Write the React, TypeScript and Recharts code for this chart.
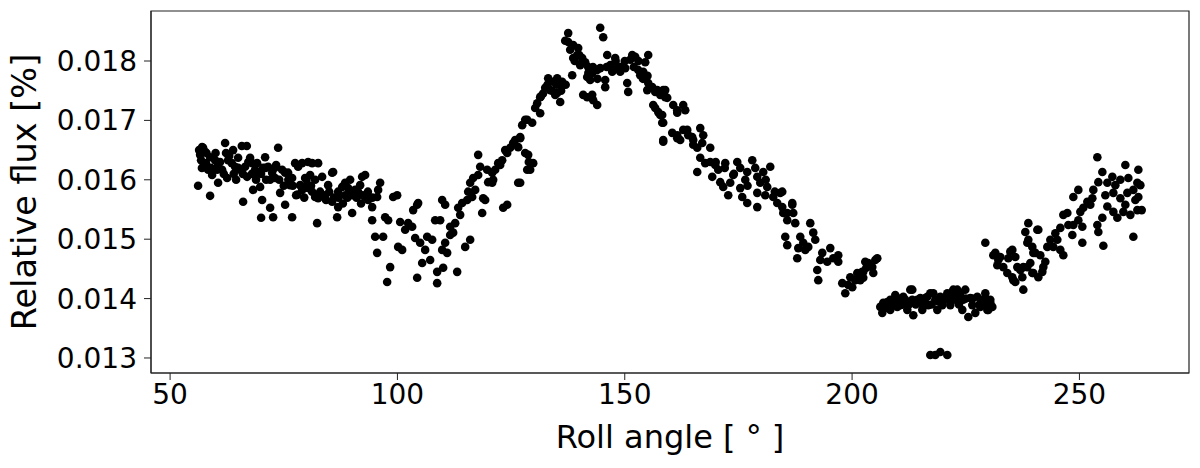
import { ReferenceArea, Scatter, ScatterChart, XAxis, YAxis } from "recharts";

// roll angle [deg], relative flux [%], left to right
const segA: [number, number][] = [
  [56.16, 0.0159], [56.38, 0.0165], [56.6, 0.01642], [56.82, 0.01633], [57.26, 0.01654],
  [57.48, 0.01625], [57.04, 0.01655], [57.7, 0.01647], [57.9, 0.01628], [58.36, 0.01617],
  [58.8, 0.01638], [58.8, 0.01573], [59.9, 0.01633], [60.34, 0.01617], [60.56, 0.01625],
  [60.56, 0.01595], [62.1, 0.01662], [62.3, 0.01645], [62.76, 0.01633], [63.57, 0.01628],
  [64.3, 0.01622], [64.96, 0.01637], [65.4, 0.01617], [65.77, 0.01657], [66.06, 0.01563],
  [66.5, 0.01622], [66.87, 0.01657], [66.94, 0.01605], [68.04, 0.01628], [68.7, 0.01617],
  [68.9, 0.016], [69.14, 0.01628], [69.36, 0.01612], [69.8, 0.01588], [70.02, 0.01536],
  [70.24, 0.01566], [70.46, 0.0162], [70.9, 0.01638], [71.56, 0.01622], [72.0, 0.01553],
  [72.44, 0.01612], [72.66, 0.01537], [73.1, 0.01603], [73.76, 0.01654], [74.2, 0.01578],
  [74.64, 0.01617], [75.3, 0.01612], [75.3, 0.01558], [75.96, 0.01612], [76.84, 0.01603],
  [76.84, 0.01537], [77.5, 0.01628], [78.16, 0.01622], [78.6, 0.01591], [79.04, 0.01628],
  [79.04, 0.01583], [79.7, 0.01603], [80.14, 0.01591], [80.36, 0.0163], [80.5, 0.01586],
  [81.24, 0.01628], [81.24, 0.0158], [81.9, 0.01571], [82.34, 0.01527], [82.56, 0.01628],
  [82.56, 0.01569], [83.44, 0.01605], [84.1, 0.01574], [84.3, 0.01566], [85.64, 0.01612],
  [85.64, 0.01563], [85.86, 0.01613], [86.74, 0.01537], [86.96, 0.0158], [86.96, 0.01554],
  [87.84, 0.01588], [88.5, 0.01595], [89.16, 0.01586], [90.04, 0.01574], [90.04, 0.01544],
  [90.7, 0.01583], [91.36, 0.0158], [92.24, 0.01605], [92.9, 0.01571],
  [59.24, 0.01608], [61.44, 0.01617], [62.54, 0.01603], [63.86, 0.0165], [64.52, 0.016],
  [67.6, 0.01637], [68.26, 0.01583], [71.12, 0.016], [73.32, 0.01625], [76.4, 0.01591],
  [77.72, 0.01574], [80.8, 0.01608], [81.9, 0.016], [84.76, 0.01591], [88.5, 0.01574],
  [89.6, 0.016], [91.8, 0.01591],
  [57.0, 0.0162], [58.0, 0.01645], [59.0, 0.0162], [60.0, 0.01645], [61.0, 0.0163],
  [61.8, 0.0161], [63.0, 0.0164], [64.0, 0.0161], [65.0, 0.0162], [66.0, 0.0161],
  [67.2, 0.0163], [68.0, 0.0161], [70.0, 0.0161], [71.0, 0.0162], [72.0, 0.016],
  [73.0, 0.0162], [74.0, 0.016], [75.0, 0.0159], [76.0, 0.016], [77.0, 0.0159],
  [78.0, 0.01575], [79.5, 0.0157], [80.0, 0.016], [81.0, 0.0159], [83.0, 0.0158],
  [84.0, 0.0157], [85.0, 0.0158], [86.0, 0.0157], [87.0, 0.0157], [88.0, 0.0156],
  [89.0, 0.0157], [90.0, 0.0158], [91.0, 0.0157], [92.0, 0.0156], [93.5, 0.0158],
  [94.5, 0.0157],
];

const segB: [number, number][] = [
  [92.9, 0.01608], [96.2, 0.01595], [90.9, 0.0158], [92.4, 0.01574], [93.56, 0.01566],
  [94.44, 0.01554], [95.54, 0.01571], [95.76, 0.01583], [94.44, 0.01532], [97.3, 0.01537],
  [97.96, 0.01532], [99.06, 0.01571], [99.94, 0.01574], [95.1, 0.01504], [96.86, 0.01504],
  [95.54, 0.01477], [98.4, 0.01453], [97.74, 0.01428], [100.16, 0.01487], [101.04, 0.01482],
  [101.7, 0.01516], [102.36, 0.01527], [103.46, 0.01549], [104.34, 0.01558], [104.56, 0.01561],
  [103.24, 0.01521], [103.9, 0.01502], [105.0, 0.01494], [105.44, 0.0146], [104.34, 0.01435],
  [106.54, 0.01504], [107.64, 0.01499], [108.3, 0.01532], [109.4, 0.01532], [109.84, 0.01566],
  [110.5, 0.01558], [108.74, 0.01445], [108.74, 0.01426], [110.06, 0.01452], [109.84, 0.01482],
  [110.94, 0.01477], [110.5, 0.01494], [111.6, 0.01521], [112.7, 0.01527], [112.26, 0.01511],
  [113.14, 0.01445], [114.9, 0.01487], [116.0, 0.01499], [113.36, 0.01553], [114.24, 0.01561],
  [115.34, 0.01566], [115.56, 0.0158], [116.44, 0.01571], [116.0, 0.01595], [116.66, 0.01603],
  [117.76, 0.01608], [118.2, 0.01622], [117.76, 0.01642], [118.86, 0.01569], [119.3, 0.01566],
  [118.64, 0.01544], [119.96, 0.01596], [120.84, 0.01612], [121.5, 0.01617], [122.16, 0.01628],
  [123.04, 0.01633], [124.14, 0.01645], [124.8, 0.01654], [125.46, 0.01662], [126.56, 0.01655],
  [126.56, 0.01595], [123.26, 0.01553], [124.14, 0.01558], [127.44, 0.01692], [128.1, 0.01701],
  [127.0, 0.01672], [128.76, 0.01642], [128.9, 0.0163], [129.2, 0.01617], [120.84, 0.01595],
  [121.06, 0.016], [100.6, 0.01529], [106.1, 0.01482], [107.2, 0.01465], [111.6, 0.01507],
  [113.8, 0.01541], [117.1, 0.01583], [119.74, 0.01617], [122.6, 0.01625], [123.7, 0.0165],
  [125.9, 0.01667],
];

const segC: [number, number][] = [
  [137.56, 0.01847], [144.6, 0.01856], [145.26, 0.0184], [137.56, 0.01832], [138.66, 0.01827],
  [139.76, 0.01822], [139.54, 0.0181], [138.66, 0.01805], [140.64, 0.01805], [141.3, 0.01798],
  [141.96, 0.0179], [141.74, 0.01773], [142.84, 0.0178], [143.94, 0.01785], [144.6, 0.01788],
  [145.7, 0.01768], [145.7, 0.01756], [146.14, 0.0181], [146.8, 0.01793], [147.9, 0.01805],
  [148.34, 0.01788], [149.0, 0.01782], [150.1, 0.01788], [151.64, 0.0181], [152.3, 0.01807],
  [155.16, 0.0181], [152.96, 0.01785], [153.4, 0.01776], [154.06, 0.01782], [150.54, 0.01763],
  [150.76, 0.01748], [138.44, 0.01776], [133.16, 0.01771], [134.26, 0.01765], [135.14, 0.01771],
  [136.24, 0.01765], [136.46, 0.0176], [132.5, 0.01755], [133.6, 0.01751], [135.14, 0.01746],
  [135.8, 0.01731], [140.86, 0.01743], [141.74, 0.01739], [142.84, 0.01743], [143.06, 0.01734],
  [143.94, 0.01726], [131.4, 0.01739], [130.74, 0.01729], [131.4, 0.01712], [130.3, 0.01721],
  [128.54, 0.01701], [129.64, 0.01696], [127.0, 0.0167], [128.1, 0.01645], [129.86, 0.01628],
  [128.54, 0.01617], [127.0, 0.01595], [155.16, 0.01763], [156.04, 0.01756], [156.7, 0.01748],
  [157.8, 0.01743], [158.9, 0.01751], [159.34, 0.01738], [156.26, 0.01726], [157.36, 0.01714],
  [158.24, 0.01709], [158.46, 0.01696], [160.66, 0.01726], [161.54, 0.01713], [162.86, 0.01726],
  [160.44, 0.01679], [161.54, 0.0167], [162.86, 0.01684], [163.96, 0.01675], [165.06, 0.01667],
  [165.94, 0.01654], [158.46, 0.01664], [165.94, 0.01613], [166.6, 0.01637],
  [136.9, 0.01834], [138.0, 0.01819], [140.2, 0.01793], [142.4, 0.01768], [147.24, 0.01782],
  [151.2, 0.01802], [154.5, 0.01798], [134.7, 0.01743],
  [131.5, 0.0174], [132.0, 0.01745], [133.0, 0.0176], [134.0, 0.0175], [135.0, 0.0176],
  [136.0, 0.0175], [137.0, 0.0176], [139.0, 0.018], [140.0, 0.0181], [142.0, 0.0178],
  [143.0, 0.0179], [144.0, 0.0177], [146.0, 0.0179], [148.0, 0.018], [149.0, 0.0179],
  [150.0, 0.018], [152.0, 0.0179], [153.0, 0.018], [154.0, 0.0177], [155.0, 0.01775],
];

const segD: [number, number][] = [
  [154.94, 0.01751], [157.14, 0.01751], [158.46, 0.01751], [158.9, 0.01739], [156.7, 0.01721],
  [157.8, 0.01709], [158.24, 0.01696], [161.54, 0.01717], [163.3, 0.01717], [158.46, 0.01667],
  [161.54, 0.01675], [162.2, 0.01667], [163.74, 0.01684], [164.84, 0.01672], [165.06, 0.01659],
  [166.6, 0.01687], [167.26, 0.01675], [167.04, 0.01662], [168.8, 0.01654], [167.7, 0.01628],
  [168.8, 0.0163], [169.9, 0.01625], [172.1, 0.01628], [174.74, 0.0163], [178.04, 0.01633],
  [169.24, 0.01605], [171.0, 0.01596], [171.66, 0.01588], [173.2, 0.01595], [172.76, 0.01574],
  [175.4, 0.01586], [175.84, 0.01571], [176.94, 0.01561], [175.4, 0.0162], [176.94, 0.01613],
  [178.7, 0.0162], [179.14, 0.01605], [180.46, 0.01613], [182.0, 0.01622], [179.8, 0.01595],
  [181.34, 0.01588], [179.14, 0.01578], [179.14, 0.01554], [182.66, 0.01571], [184.2, 0.01578],
  [183.54, 0.01561], [184.64, 0.01554], [186.84, 0.01558], [187.06, 0.01544], [185.74, 0.01544],
  [170.56, 0.01617], [173.86, 0.01608], [176.5, 0.016], [180.9, 0.01574],
  [170.0, 0.0163], [172.0, 0.0162], [174.0, 0.0161], [177.0, 0.0159], [181.0, 0.016],
  [183.0, 0.0158],
];

const segE: [number, number][] = [
  [184.64, 0.0158], [186.84, 0.01561], [184.86, 0.01544], [185.74, 0.01532], [187.5, 0.01527],
  [185.3, 0.01504], [185.74, 0.0149], [188.6, 0.01504], [189.26, 0.01494], [190.8, 0.01527],
  [191.46, 0.01511], [188.16, 0.01485], [190.36, 0.01487], [187.94, 0.01468], [189.7, 0.01482],
  [193.44, 0.01477], [195.2, 0.01485], [196.96, 0.01473], [193.0, 0.01465], [194.54, 0.01462],
  [192.34, 0.01448], [192.56, 0.01431], [196.96, 0.01462], [197.84, 0.01426], [198.5, 0.01409],
  [199.6, 0.01436], [201.14, 0.01443], [202.46, 0.01445], [203.56, 0.0146], [205.54, 0.01468],
  [204.66, 0.01443], [201.8, 0.01431], [200.04, 0.01419], [191.9, 0.01499], [195.86, 0.01468],
  [199.16, 0.01423], [200.7, 0.01431], [203.12, 0.01452], [202.9, 0.01462], [205.1, 0.01465],
  [204.44, 0.01453], [202.24, 0.01445], [202.46, 0.01435],
];

const segF: [number, number][] = [
  [206.86, 0.01393], [208.4, 0.01398], [209.94, 0.01393], [211.26, 0.01403], [213.24, 0.01415],
  [215.0, 0.01401], [216.54, 0.01403], [217.86, 0.01409], [219.4, 0.01403], [220.94, 0.01409],
  [222.26, 0.01415], [223.14, 0.01403], [206.2, 0.01386], [206.64, 0.01376], [207.74, 0.01394],
  [209.06, 0.01398], [209.94, 0.01386], [212.8, 0.01415], [213.24, 0.01398], [212.14, 0.01381],
  [213.46, 0.01372], [215.0, 0.01393], [216.1, 0.01401], [217.2, 0.01409], [218.3, 0.01398],
  [218.74, 0.01381], [219.84, 0.01389], [222.04, 0.01411], [223.14, 0.01415], [223.8, 0.01409],
  [224.46, 0.01398], [225.56, 0.01369], [226.0, 0.01401], [227.54, 0.01403], [228.2, 0.01386],
  [229.3, 0.01401], [229.96, 0.01381], [230.84, 0.01386], [227.1, 0.01376], [207.3, 0.01384],
  [208.4, 0.01381], [210.6, 0.01389], [211.7, 0.01398], [214.34, 0.01398], [215.44, 0.01381],
  [216.76, 0.01389], [220.5, 0.01398], [221.6, 0.01389], [222.7, 0.01398], [224.9, 0.01415],
  [226.44, 0.01389], [228.64, 0.01398], [230.4, 0.01398], [224.24, 0.01381], [209.5, 0.01406],
  [229.3, 0.01409], [230.4, 0.01393], [229.74, 0.01381],
  [207.5, 0.0139], [208.8, 0.0139], [210.2, 0.014], [211.0, 0.0139], [212.5, 0.0139],
  [214.0, 0.0139], [215.8, 0.0139], [217.5, 0.0139], [219.0, 0.01395], [220.0, 0.014],
  [221.2, 0.014], [222.0, 0.014], [223.5, 0.0139], [225.0, 0.014], [226.5, 0.014],
  [228.0, 0.0139], [229.0, 0.0139],
  [217.2, 0.01305], [218.3, 0.01305], [219.4, 0.0131], [220.94, 0.01305],
];

const segG: [number, number][] = [
  [229.3, 0.01494], [231.5, 0.01477], [232.16, 0.01465], [233.26, 0.01453], [234.8, 0.01479],
  [235.9, 0.0147], [234.14, 0.01443], [235.46, 0.01431], [237.66, 0.01415], [237.0, 0.01448],
  [238.54, 0.01453], [238.54, 0.01494], [238.1, 0.01512], [238.76, 0.01527], [239.86, 0.01477],
  [239.64, 0.01443], [240.74, 0.01516], [240.96, 0.01436], [240.96, 0.01516], [238.76, 0.01499],
  [239.64, 0.01487], [240.3, 0.01477], [241.4, 0.01473], [242.06, 0.01453], [241.84, 0.01445],
  [239.86, 0.01443], [239.2, 0.0146], [237.66, 0.01453], [237.44, 0.01436], [235.24, 0.01482],
  [234.36, 0.01468], [232.6, 0.0147], [231.06, 0.01473], [231.94, 0.01456], [235.24, 0.01436],
  [235.9, 0.01428], [236.34, 0.01453], [242.94, 0.01487], [242.5, 0.01462], [245.14, 0.01499],
];

const segH: [number, number][] = [
  [253.94, 0.01638], [260.1, 0.01625], [262.96, 0.01617], [255.04, 0.01613], [254.16, 0.01596],
  [256.14, 0.01595], [257.24, 0.01605], [259.0, 0.016], [260.76, 0.01603], [262.74, 0.01595],
  [257.46, 0.01578], [259.0, 0.01569], [260.54, 0.01578], [261.86, 0.01583], [262.96, 0.01571],
  [256.14, 0.01555], [257.46, 0.01546], [259.66, 0.01546], [261.2, 0.01541], [262.74, 0.01549],
  [263.7, 0.01549], [258.34, 0.01536], [255.04, 0.01536], [253.94, 0.01524], [254.16, 0.01512],
  [255.26, 0.01489], [261.86, 0.01504], [249.76, 0.01583], [248.66, 0.01571], [253.06, 0.01583],
  [252.84, 0.01569], [251.74, 0.01563], [250.86, 0.01553], [250.2, 0.01546], [250.64, 0.01521],
  [249.76, 0.01532], [248.66, 0.01524], [248.44, 0.01507], [250.64, 0.01494], [247.34, 0.01544],
  [246.46, 0.01541], [245.8, 0.01519], [244.7, 0.0151], [243.6, 0.01499], [244.26, 0.01487],
  [245.8, 0.01482], [246.46, 0.01473], [247.56, 0.01524], [252.4, 0.01558], [255.7, 0.01574],
  [257.9, 0.01591], [260.1, 0.01558], [262.3, 0.01566], [263.4, 0.01591],
];

const xTicks = [50, 100, 150, 200, 250];
const yTicks = [0.013, 0.014, 0.015, 0.016, 0.017, 0.018];
const xDomain: [number, number] = [45.8, 274.1];
const yDomain: [number, number] = [0.012747, 0.018842];

const points = [...segA, ...segB, ...segC, ...segD, ...segE, ...segF, ...segG, ...segH].map(
  ([angle, flux]) => ({ angle, flux }),
);

const FONT = "'DejaVu Sans', sans-serif";
const tickStyle = { fill: "#000", fontSize: 28, fontFamily: FONT };

const Dot = (p: any) => <circle cx={p.cx} cy={p.cy} r={4.3} fill="#000" />;

export default function App() {
  return (
    <div style={{ position: "absolute", left: 0, top: 0, width: 1200, height: 468, background: "#fff" }}>
      <ScatterChart width={1200} height={468} margin={{ top: 11, right: 11, bottom: 0, left: 0 }}>
        <XAxis
          type="number"
          dataKey="angle"
          domain={xDomain}
          ticks={xTicks}
          interval={0}
          allowDataOverflow
          height={95}
          tickSize={7}
          tickMargin={4}
          stroke="#222"
          tick={tickStyle}
        />
        <YAxis
          type="number"
          dataKey="flux"
          domain={yDomain}
          ticks={yTicks}
          interval={0}
          allowDataOverflow
          width={151}
          tickSize={7}
          tickMargin={7}
          stroke="#222"
          tick={tickStyle}
          tickFormatter={(v: number) => v.toFixed(3)}
        />
        {/* frame (top / right spines) */}
        <ReferenceArea
          x1={xDomain[0]}
          x2={xDomain[1]}
          y1={yDomain[0]}
          y2={yDomain[1]}
          fill="none"
          fillOpacity={0}
          stroke="#222"
          strokeWidth={1.2}
          strokeOpacity={1}
          ifOverflow="visible"
        />
        <Scatter data={points} shape={Dot} isAnimationActive={false} />
      </ScatterChart>
      <svg
        width={1200}
        height={468}
        style={{ position: "absolute", left: 0, top: 0, pointerEvents: "none" }}
      >
        <text x={670} y={448} textAnchor="middle" fontSize={32} fontFamily={FONT} fill="#000">
          Roll angle [ ° ]
        </text>
        <text
          transform="translate(36,192) rotate(-90)"
          textAnchor="middle"
          fontSize={33.5}
          fontFamily={FONT}
          fill="#000"
        >
          Relative flux [%]
        </text>
      </svg>
    </div>
  );
}
